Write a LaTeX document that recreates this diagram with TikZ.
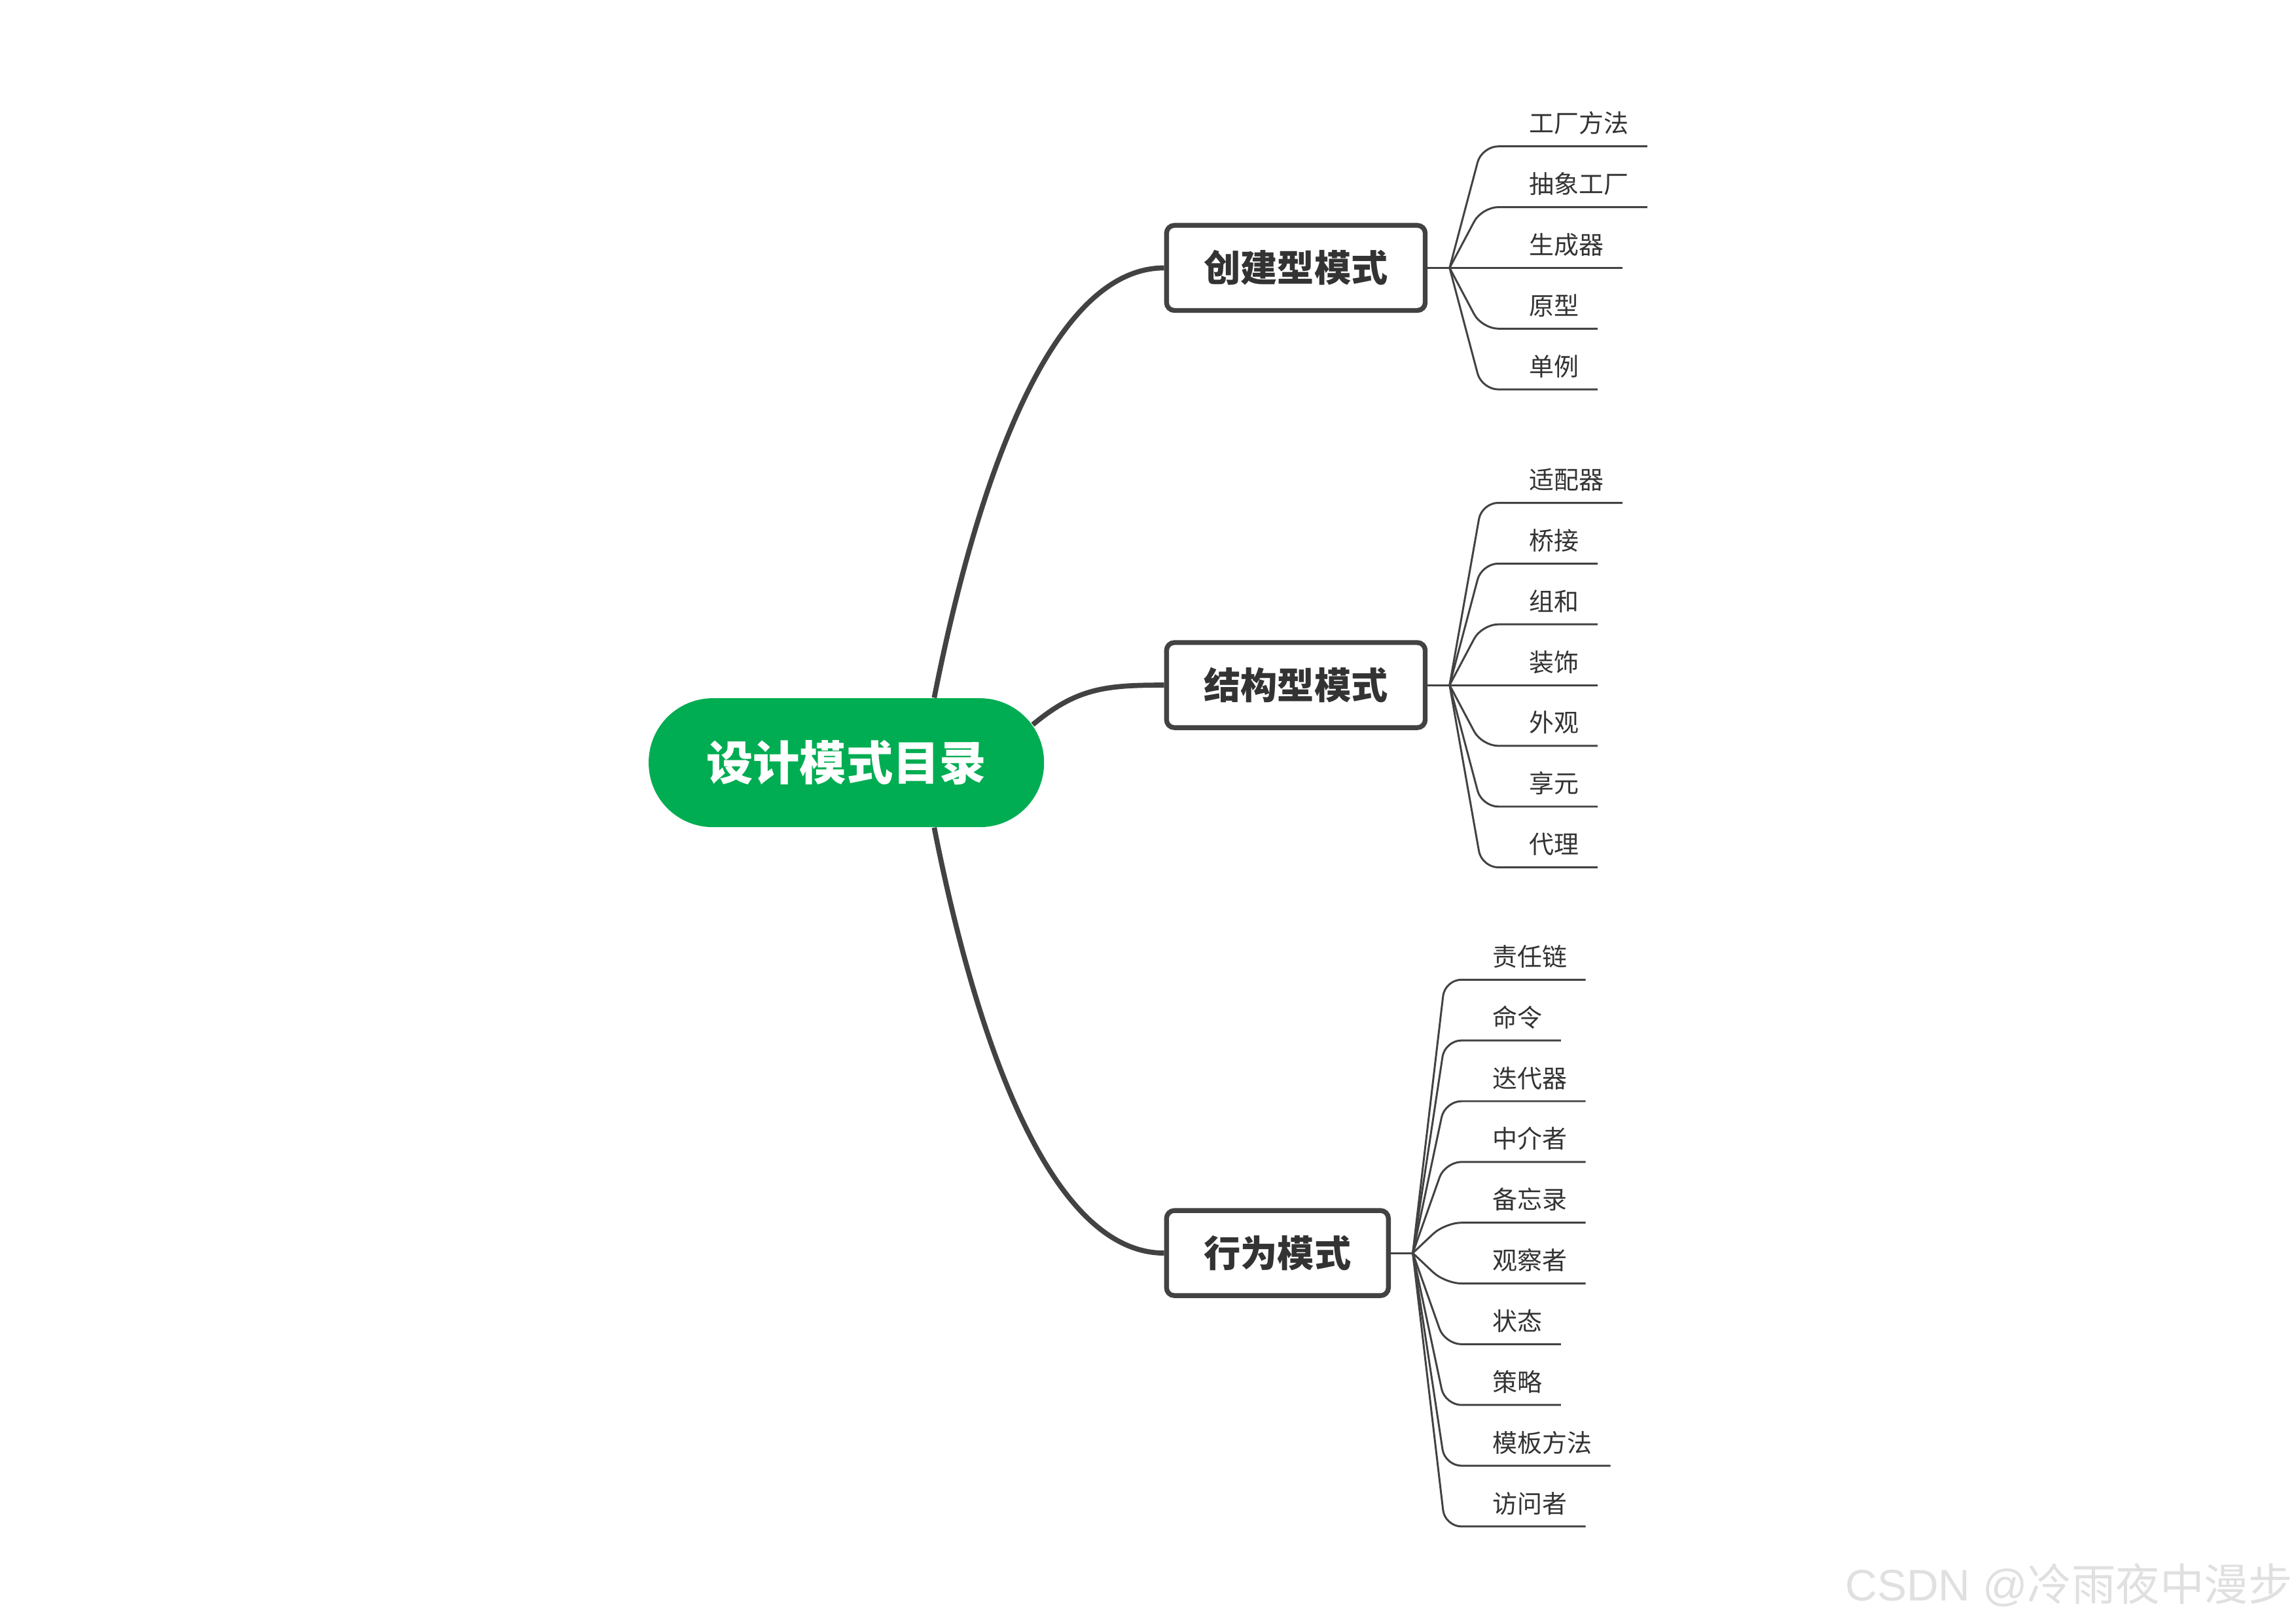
\documentclass[tikz,border=0pt]{standalone}
\usepackage{fontspec}
\setmainfont{Noto Sans CJK SC}
\newfontfamily\markfont{Liberation Sans}
\usetikzlibrary{positioning,calc}
\definecolor{MapGreen}{HTML}{00AD52}
\definecolor{MapGray}{HTML}{424242}
\definecolor{MapText}{HTML}{333333}
\definecolor{MapMark}{HTML}{E0E0E0}

\begin{document}
\begin{tikzpicture}[x=0.2237mm, y=-0.2237mm,
    rootbox/.style={fill=MapGreen, text=white, rounded corners=9.8mm, minimum width=60.4mm, minimum height=19.7mm, inner sep=0pt, font=\fontsize{20.3}{24}\selectfont\bfseries},
    catbox/.style={draw=MapGray, line width=2.1pt, rounded corners=1.2mm, fill=white, text=MapText, anchor=west, minimum height=13mm, inner xsep=5.7mm, font=\fontsize{16}{19}\selectfont\bfseries},
    leaf/.style={anchor=south west, inner xsep=2.8mm, inner ysep=1.6mm, text depth=0.12em, text=MapText, font=\fontsize{10.8}{13}\selectfont},
    trunk/.style={draw=MapGray, line width=2.2pt},
    twig/.style={draw=MapGray, line width=0.85pt, rounded corners=2.5mm}]
  \useasboundingbox (0,0) rectangle (1568,1109);

  % centre and the three groups
  \node[rootbox] (root) at (578,521) {设计模式目录};
  \node[catbox] (cre) at (795,183) {创建型模式};
  \node[catbox] (str) at (795,468) {结构型模式};
  \node[catbox] (beh) at (795,856) {行为模式};

  \draw[trunk] ($(root.north)+(60,0)$) .. controls +(27,-137) and +(-80,0) .. (cre.west);
  \draw[trunk] ($(root.east)+(-8,-26)$) .. controls +(30,-25) and +(-40,0) .. (str.west);
  \draw[trunk] ($(root.south)+(60,0)$) .. controls +(27,137) and +(-80,0) .. (beh.west);

  % fan points
  \coordinate (creF) at ($(cre.east)+(15,0)$);
  \coordinate (strF) at ($(str.east)+(15,0)$);
  \coordinate (behF) at ($(beh.east)+(15,0)$);
  \draw[twig] (cre.east) -- (creF);
  \draw[twig] (str.east) -- (strF);
  \draw[twig] (beh.east) -- (behF);

  % leaves
  \foreach \txt [count=\i] in {工厂方法,抽象工厂,生成器,原型,单例}{
    \node[leaf] (c\i) at ($(creF)+(41.5,{(\i-3)*41.5})$) {\txt};
    \draw[twig] (creF) -- ($(c\i.south west)+(-19.5,0)$) -- (c\i.south east);
  }
  \foreach \txt [count=\i] in {适配器,桥接,组和,装饰,外观,享元,代理}{
    \node[leaf] (s\i) at ($(strF)+(41.5,{(\i-4)*41.5})$) {\txt};
    \draw[twig] (strF) -- ($(s\i.south west)+(-19.5,0)$) -- (s\i.south east);
  }
  \foreach \txt [count=\i] in {责任链,命令,迭代器,中介者,备忘录,观察者,状态,策略,模板方法,访问者}{
    \node[leaf] (b\i) at ($(behF)+(41.5,{(\i-5.5)*41.5})$) {\txt};
    \draw[twig] (behF) -- ($(b\i.south west)+(-19.5,0)$) -- (b\i.south east);
  }

  \node[anchor=east, inner sep=0pt, text=MapMark, font=\fontsize{19.2}{21}\selectfont] (mark) at (1566,1083) {{\markfont CSDN @}冷雨夜中漫步};
\end{tikzpicture}
\end{document}
